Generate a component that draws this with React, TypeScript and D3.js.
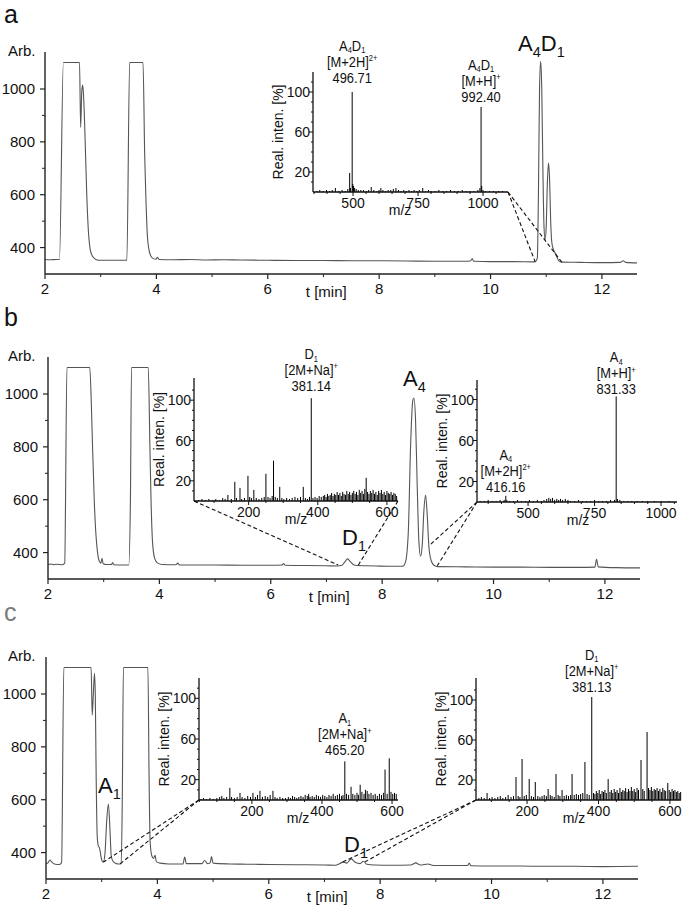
import React from 'react';
import * as d3 from 'd3';

const FONT = "'Liberation Sans', Arial, Helvetica, sans-serif";
type P = [number, number];

// ---------- chromatograms: [time (min), signal (Arb.)] ----------
const traceA: P[] = [
  [2.0, 355], [2.1, 354], [2.2, 355], [2.26, 355], [2.33, 1100], [2.62, 1100], [2.64, 855], [2.66, 990], [2.675, 1015],
  [2.69, 985], [2.71, 880], [2.73, 740], [2.75, 600], [2.78, 460], [2.81, 395], [2.85, 368], [2.9, 357], [2.97, 352],
  [3.2, 352], [3.47, 352], [3.52, 1100], [3.76, 1100], [3.79, 750], [3.81, 600], [3.84, 440], [3.88, 380], [3.93, 360],
  [3.99, 356], [4.02, 363], [4.05, 355], [4.3, 354], [4.6, 355], [4.9, 353], [5.2, 354], [5.5, 353], [6.0, 352],
  [6.5, 351], [7.0, 351], [7.5, 350], [8.0, 350], [8.5, 349], [9.0, 348], [9.5, 348], [9.64, 349], [9.67, 358],
  [9.7, 348], [10.0, 347], [10.4, 347], [10.8, 346], [10.84, 360], [10.86, 600], [10.88, 1000], [10.9, 1105],
  [10.92, 1000], [10.94, 700], [10.96, 480], [10.98, 430], [11.0, 480], [11.02, 640], [11.04, 720], [11.06, 660],
  [11.08, 500], [11.1, 420], [11.13, 392], [11.17, 375], [11.22, 352], [11.28, 345], [11.6, 344], [12.0, 343],
  [12.33, 344], [12.38, 350], [12.43, 344], [12.63, 342],
];

const traceB: P[] = [
  [2.0, 355], [2.05, 357], [2.1, 354], [2.15, 356], [2.26, 354], [2.3, 360], [2.34, 1100], [2.75, 1100], [2.78, 950],
  [2.8, 800], [2.83, 600], [2.86, 470], [2.89, 400], [2.92, 368], [2.95, 360], [2.97, 378], [2.99, 358], [3.05, 355],
  [3.14, 355], [3.16, 362], [3.18, 354], [3.3, 353], [3.45, 353], [3.48, 600], [3.5, 1100], [3.8, 1100], [3.83, 800],
  [3.85, 600], [3.88, 430], [3.92, 375], [3.97, 360], [4.05, 355], [4.3, 354], [4.33, 360], [4.36, 353], [4.7, 353],
  [5.0, 353], [5.5, 352], [6.0, 352], [6.2, 353], [6.23, 358], [6.26, 352], [6.6, 351], [7.0, 350], [7.2, 349],
  [7.28, 352], [7.33, 365], [7.38, 376], [7.43, 365], [7.48, 355], [7.55, 351], [7.7, 350], [7.9, 349], [8.2, 348],
  [8.37, 348], [8.42, 365], [8.47, 480], [8.51, 800], [8.55, 975], [8.57, 985], [8.6, 900], [8.63, 650], [8.66, 440],
  [8.69, 386], [8.72, 430], [8.75, 560], [8.78, 618], [8.81, 540], [8.84, 420], [8.88, 370], [8.93, 352], [9.0, 347],
  [9.5, 346], [10.0, 345], [10.5, 345], [11.0, 344], [11.5, 344], [11.82, 345], [11.85, 375], [11.88, 346],
  [12.2, 343], [12.63, 342],
];

const traceC: P[] = [
  [2.0, 358], [2.04, 362], [2.07, 372], [2.1, 365], [2.15, 357], [2.24, 355], [2.28, 362], [2.32, 1100], [2.81, 1100],
  [2.83, 920], [2.85, 1000], [2.87, 1078], [2.885, 1000], [2.9, 700], [2.92, 460], [2.94, 425], [2.96, 418],
  [2.98, 395], [3.0, 372], [3.03, 364], [3.06, 400], [3.09, 520], [3.12, 584], [3.15, 480], [3.17, 390], [3.2, 368],
  [3.25, 360], [3.3, 357], [3.35, 358], [3.37, 600], [3.39, 1100], [3.83, 1100], [3.85, 700], [3.87, 440], [3.9, 388],
  [3.93, 378], [3.96, 390], [3.98, 366], [4.05, 360], [4.2, 357], [4.46, 357], [4.49, 383], [4.52, 358], [4.8, 358],
  [4.85, 370], [4.9, 358], [4.95, 362], [4.97, 385], [5.0, 360], [5.3, 357], [5.6, 356], [6.0, 355], [6.5, 354],
  [7.0, 353], [7.2, 352], [7.27, 358], [7.33, 364], [7.4, 360], [7.48, 376], [7.56, 362], [7.64, 358], [7.7, 367],
  [7.76, 356], [7.9, 353], [8.2, 352], [8.55, 353], [8.64, 361], [8.72, 353], [8.86, 357], [8.92, 353], [9.0, 351],
  [9.57, 351], [9.6, 360], [9.63, 350], [10.0, 349], [10.5, 349], [11.0, 348], [11.5, 348], [12.0, 347], [12.63, 348],
];

// ---------- mass spectra: [m/z, rel. intensity %] ----------
const spectrumA: P[] = [
  [360, 1], [372, 2], [385, 1], [398, 2], [410, 1], [420, 2], [432, 4], [445, 1], [458, 2], [470, 1], [480, 3],
  [487, 19], [490, 4], [496.71, 100], [499, 8], [502, 6], [506, 4], [512, 3], [520, 2], [530, 2], [540, 2], [552, 1],
  [560, 2], [570, 5], [580, 2], [592, 1], [600, 2], [607, 4], [615, 2], [625, 1], [635, 2], [645, 2], [655, 3],
  [665, 4], [675, 2], [685, 1], [695, 2], [705, 1], [715, 2], [725, 1], [735, 2], [745, 1], [755, 2], [768, 4],
  [780, 1], [790, 2], [800, 1], [815, 1], [830, 2], [845, 1], [860, 1], [875, 2], [890, 1], [905, 1], [920, 2],
  [935, 1], [950, 1], [965, 1], [980, 2], [988, 4], [992.4, 85], [995, 6], [1000, 2], [1010, 1], [1025, 1],
  [1040, 1], [1060, 1], [1075, 1],
];

const spectrumB1: P[] = [
  [55, 1], [65, 2], [75, 1], [85, 2], [95, 1], [105, 2], [115, 1], [125, 3], [132, 2], [140, 6], [150, 2], [160, 19],
  [165, 3], [175, 13], [180, 2], [188, 3], [198, 25], [203, 4], [208, 3], [215, 11], [222, 3], [230, 2], [238, 3],
  [245, 4], [250, 27], [256, 4], [262, 3], [268, 5], [272, 40], [277, 4], [283, 3], [290, 14], [296, 3], [302, 2],
  [310, 3], [318, 2], [326, 3], [334, 4], [342, 3], [350, 4], [358, 14], [364, 3], [370, 2], [376, 4], [381.14, 102],
  [386, 3], [392, 4], [398, 3], [404, 5], [410, 4], [416, 5], [420, 6], [424, 4], [428, 7], [432, 5], [436, 6],
  [440, 8], [444, 5], [448, 7], [452, 6], [456, 9], [460, 6], [464, 8], [468, 5], [472, 9], [476, 7], [480, 6],
  [484, 10], [488, 7], [492, 9], [496, 6], [500, 8], [504, 10], [508, 7], [512, 9], [516, 6], [520, 11], [524, 8],
  [528, 10], [532, 7], [536, 12], [540, 23], [544, 9], [548, 7], [552, 10], [556, 8], [560, 11], [564, 7], [568, 9],
  [572, 6], [576, 10], [580, 8], [584, 11], [588, 7], [592, 9], [596, 6], [600, 10], [604, 8], [608, 7], [612, 9],
  [616, 6], [620, 8], [624, 7], [628, 5],
];

const spectrumB2: P[] = [
  [320, 1], [335, 1], [350, 2], [365, 1], [380, 1], [395, 2], [410, 2], [416.16, 6], [420, 2], [430, 1], [445, 1],
  [460, 2], [475, 1], [490, 1], [505, 2], [520, 1], [535, 2], [550, 1], [560, 2], [570, 3], [578, 4], [585, 3],
  [592, 4], [600, 2], [608, 3], [615, 2], [622, 3], [630, 2], [640, 3], [650, 2], [660, 1], [675, 1], [690, 2],
  [705, 1], [720, 1], [735, 1], [750, 2], [765, 1], [780, 1], [795, 1], [810, 2], [825, 2], [831.33, 103], [836, 3],
  [845, 2], [860, 1], [875, 1], [890, 1], [910, 1], [930, 1], [950, 1], [975, 1], [1000, 1], [1030, 1],
];

const spectrumC1: P[] = [
  [55, 1], [62, 2], [70, 1], [80, 2], [90, 1], [100, 2], [108, 3], [114, 4], [120, 2], [128, 3], [137, 12], [142, 3],
  [150, 2], [158, 3], [166, 7], [172, 3], [180, 2], [188, 4], [196, 3], [203, 7], [210, 3], [216, 5], [223, 9],
  [230, 3], [238, 4], [245, 3], [252, 5], [260, 9], [266, 3], [272, 2], [280, 3], [288, 2], [296, 2], [304, 3],
  [310, 2], [316, 4], [322, 3], [328, 2], [334, 3], [340, 4], [346, 3], [352, 5], [358, 4], [362, 6], [366, 3],
  [372, 4], [378, 3], [384, 5], [390, 4], [396, 3], [402, 5], [408, 4], [414, 3], [420, 5], [426, 4], [432, 6],
  [438, 4], [444, 5], [450, 6], [456, 4], [460, 5], [465.2, 38], [470, 6], [476, 5], [483, 13], [488, 6], [494, 5],
  [500, 7], [504, 5], [509, 15], [514, 8], [520, 6], [524, 10], [529, 9], [534, 6], [540, 7], [546, 5], [552, 6],
  [558, 4], [564, 6], [570, 5], [576, 7], [580, 30], [586, 6], [592, 41], [597, 8], [602, 6], [607, 7], [612, 6],
];

const spectrumC2: P[] = [
  [65, 2], [72, 3], [80, 2], [88, 7], [95, 2], [102, 3], [110, 2], [118, 3], [125, 4], [132, 2], [140, 3], [147, 5],
  [155, 3], [162, 4], [169, 23], [175, 4], [180, 3], [186, 41], [192, 4], [198, 5], [206, 21], [212, 4], [218, 3],
  [223, 18], [230, 4], [236, 3], [242, 4], [248, 5], [254, 4], [259, 11], [265, 5], [270, 4], [276, 3], [281, 26],
  [287, 5], [292, 4], [298, 10], [304, 4], [310, 5], [316, 4], [322, 5], [326, 26], [332, 5], [338, 6], [344, 5],
  [350, 6], [356, 7], [362, 38], [368, 6], [374, 5], [381.13, 103], [386, 7], [390, 6], [394, 9], [398, 7], [402, 10],
  [406, 6], [410, 9], [414, 8], [418, 10], [422, 7], [427, 21], [432, 8], [436, 10], [440, 7], [444, 11], [448, 8],
  [452, 10], [456, 7], [460, 12], [464, 8], [468, 10], [472, 9], [476, 12], [480, 8], [484, 11], [488, 9], [492, 13],
  [496, 9], [500, 11], [504, 8], [508, 12], [512, 10], [519, 40], [524, 11], [528, 9], [536, 68], [540, 12], [544, 10],
  [548, 13], [552, 9], [556, 11], [560, 10], [564, 12], [568, 9], [572, 11], [576, 8], [580, 12], [584, 10], [588, 9],
  [594, 17], [598, 10], [602, 8], [606, 11], [610, 9], [614, 10], [618, 8], [622, 9], [626, 7], [630, 8],
];

// ---------- ticks ----------
const timeTicks = [2, 4, 6, 8, 10, 12];
const timeMinorTicks = [3, 5, 7, 9, 11];
const signalTicks = [400, 600, 800, 1000];
const signalMinorTicks = [500, 700, 900];
const intensityTicks = [20, 60, 100];
const intensityMinorTicks = [10, 30, 40, 50, 70, 80, 90, 110];
const mzTicksWide = [500, 750, 1000];
const mzMinorWide = [350, 400, 450, 550, 600, 650, 700, 800, 850, 900, 950, 1050];
const mzTicksNarrow = [200, 400, 600];
const mzMinorNarrow = [50, 100, 150, 250, 300, 350, 450, 500, 550];

type Seg = { t: string; s?: 'sub' | 'sup' };
const lbl = (str: string): Seg[] => {
  const out: Seg[] = [];
  let i = 0;
  while (i < str.length) {
    if (str[i] === '_') { out.push({ t: str[i + 1], s: 'sub' }); i += 2; }
    else if (str[i] === '^') { const e = str.indexOf('}', i); out.push({ t: str.slice(i + 2, e), s: 'sup' }); i = e + 1; }
    else { let j = i; while (j < str.length && str[j] !== '_' && str[j] !== '^') j++; out.push({ t: str.slice(i, j) }); i = j; }
  }
  return out;
};

function Rich({ x, y, segs, size, anchor = 'start', fill = '#111', subScale = 0.62, sx = 1, subShift = 0.25 }:
  { x: number; y: number; segs: Seg[]; size: number; anchor?: string; fill?: string; subScale?: number; sx?: number; subShift?: number }) {
  let shift = 0;
  return (
    <g transform={`translate(${x},${y}) scale(${sx},1)`}>
      <text x={0} y={0} fontSize={size} textAnchor={anchor} fontFamily={FONT} fill={fill}>
        {segs.map((s, i) => {
          const target = s.s === 'sub' ? size * subShift : s.s === 'sup' ? -size * 0.38 : 0;
          const dy = target - shift;
          shift = target;
          return <tspan key={i} dy={dy} fontSize={s.s ? size * subScale : size}>{s.t}</tspan>;
        })}
      </text>
    </g>
  );
}

interface Ann { mz: number; at: number; lines: string[] }
interface Conn { from: number; to: P }
interface InsetCfg {
  data: P[]; xDomain: [number, number]; xRange: [number, number]; yDomain: [number, number]; yRange: [number, number];
  xTicks: number[]; xMinor: number[]; mzLabelX: number; anns: Ann[]; conns: Conn[];
}
interface BigLabel { text: string; x: number; y: number }
interface PanelCfg {
  letter: string; letterColor: string; letterY: number; trace: P[];
  xRange: [number, number]; yRange: [number, number]; labels: BigLabel[]; insets: InsetCfg[];
}

const panels: PanelCfg[] = [
  {
    letter: 'a', letterColor: '#111', letterY: 22, trace: traceA, xRange: [45, 637], yRange: [274, 52],
    labels: [{ text: 'A_4D_1', x: 518, y: 51 }],
    insets: [{
      data: spectrumA, xDomain: [346, 1096], xRange: [313, 508], yDomain: [0, 120], yRange: [192, 72],
      xTicks: mzTicksWide, xMinor: mzMinorWide, mzLabelX: 400,
      anns: [
        { mz: 496.71, at: 109, lines: ['A_4D_1', '[M+2H]^{2+}', '496.71'] },
        { mz: 992.4, at: 90, lines: ['A_4D_1', '[M+H]^{+}', '992.40'] },
      ],
      conns: [{ from: 1096, to: [10.8, 347] }, { from: 1096, to: [11.28, 345] }],
    }],
  },
  {
    letter: 'b', letterColor: '#111', letterY: 325, trace: traceB, xRange: [48, 640], yRange: [579, 357],
    labels: [{ text: 'A_4', x: 403, y: 386 }, { text: 'D_1', x: 342, y: 545 }],
    insets: [
      {
        data: spectrumB1, xDomain: [42, 632], xRange: [194, 398], yDomain: [0, 122], yRange: [501, 378],
        xTicks: mzTicksNarrow, xMinor: mzMinorNarrow, mzLabelX: 296,
        anns: [{ mz: 381.14, at: 109, lines: ['D_1', '[2M+Na]^{+}', '381.14'] }],
        conns: [{ from: 42, to: [7.21, 353] }, { from: 632, to: [7.57, 352] }],
      },
      {
        data: spectrumB2, xDomain: [308, 1060], xRange: [477, 677], yDomain: [0, 119], yRange: [502, 380],
        xTicks: mzTicksWide, xMinor: mzMinorWide, mzLabelX: 578,
        anns: [
          { mz: 831.33, at: 105, lines: ['A_4', '[M+H]^{+}', '831.33'] },
          { mz: 416.16, at: 10, lines: ['A_4', '[M+2H]^{2+}', '416.16'] },
        ],
        conns: [{ from: 308, to: [8.86, 429] }, { from: 308, to: [8.99, 350] }],
      },
    ],
  },
  {
    letter: 'c', letterColor: '#7a7a7a', letterY: 620, trace: traceC, xRange: [46, 638], yRange: [879, 657],
    labels: [{ text: 'A_1', x: 98, y: 793 }, { text: 'D_1', x: 344, y: 852 }],
    insets: [
      {
        data: spectrumC1, xDomain: [49, 617], xRange: [199, 398], yDomain: [0, 120], yRange: [800, 678],
        xTicks: mzTicksNarrow, xMinor: mzMinorNarrow, mzLabelX: 298,
        anns: [{ mz: 465.2, at: 44, lines: ['A_1', '[2M+Na]^{+}', '465.20'] }],
        conns: [{ from: 49, to: [3.03, 364] }, { from: 49, to: [3.33, 357] }],
      },
      {
        data: spectrumC2, xDomain: [57, 631], xRange: [476, 681], yDomain: [0, 122], yRange: [800, 678],
        xTicks: mzTicksNarrow, xMinor: mzMinorNarrow, mzLabelX: 574,
        anns: [{ mz: 381.13, at: 108, lines: ['D_1', '[2M+Na]^{+}', '381.13'] }],
        conns: [{ from: 57, to: [7.28, 360] }, { from: 57, to: [7.73, 365] }],
      },
    ],
  },
];

const AX = '#222';

function Inset({ cfg, px, py }: { cfg: InsetCfg; px: d3.ScaleLinear<number, number>; py: d3.ScaleLinear<number, number> }) {
  const x = d3.scaleLinear().domain(cfg.xDomain).range(cfg.xRange);
  const y = d3.scaleLinear().domain(cfg.yDomain).range(cfg.yRange);
  const y0 = y(0);
  const midY = (cfg.yRange[0] + cfg.yRange[1]) / 2;
  return (
    <g>
      {cfg.conns.map((c, i) => (
        <line key={'c' + i} x1={x(c.from)} y1={y0} x2={px(c.to[0])} y2={py(c.to[1])}
          stroke="#111" strokeWidth={1.1} strokeDasharray="4 2.5" />
      ))}
      {cfg.data.map((d, i) => (
        <line key={i} x1={x(d[0])} x2={x(d[0])} y1={y0} y2={y(d[1])} stroke="#000" strokeWidth={1} />
      ))}
      <line x1={cfg.xRange[0]} x2={cfg.xRange[1]} y1={y0} y2={y0} stroke="#111" strokeWidth={1.3} />
      <line x1={cfg.xRange[0]} x2={cfg.xRange[0]} y1={y0} y2={cfg.yRange[1]} stroke="#111" strokeWidth={1.3} />
      {cfg.xTicks.map(t => (
        <g key={'xt' + t}>
          <line x1={x(t)} x2={x(t)} y1={y0} y2={y0 + 4} stroke="#111" />
          <text x={x(t)} y={y0 + 16} fontSize={14} textAnchor="middle" fontFamily={FONT} fill="#111">{t}</text>
        </g>
      ))}
      {cfg.xMinor.filter(t => t > cfg.xDomain[0] && t < cfg.xDomain[1]).map(t => (
        <line key={'xm' + t} x1={x(t)} x2={x(t)} y1={y0} y2={y0 + 2} stroke="#111" />
      ))}
      {intensityTicks.map(t => (
        <g key={'yt' + t}>
          <line x1={cfg.xRange[0] - 4} x2={cfg.xRange[0]} y1={y(t)} y2={y(t)} stroke="#111" />
          <text x={cfg.xRange[0] - 3} y={y(t)} dy="0.36em" fontSize={14} textAnchor="end" fontFamily={FONT} fill="#111">{t}</text>
        </g>
      ))}
      {intensityMinorTicks.filter(t => t < cfg.yDomain[1]).map(t => (
        <line key={'ym' + t} x1={cfg.xRange[0] - 2} x2={cfg.xRange[0]} y1={y(t)} y2={y(t)} stroke="#111" />
      ))}
      <text x={cfg.mzLabelX} y={y0 + 23} fontSize={14} textAnchor="middle" fontFamily={FONT} fill="#111">m/z</text>
      <text transform={`translate(${cfg.xRange[0] - 30},${midY}) rotate(-90)`} fontSize={14} textAnchor="middle"
        fontFamily={FONT} fill="#111">Real. inten. [%]</text>
      {cfg.anns.map((a, i) => (
        <g key={'a' + i}>
          {a.lines.map((ln, j) => (
            <Rich key={j} x={x(a.mz)} y={y(a.at) - (a.lines.length - 1 - j) * 16} segs={lbl(ln)} size={15}
              anchor="middle" sx={0.86} subScale={0.58} subShift={0.16} />
          ))}
        </g>
      ))}
    </g>
  );
}

function Panel({ cfg }: { cfg: PanelCfg }) {
  const x = d3.scaleLinear().domain([2, 12.63]).range(cfg.xRange);
  const y = d3.scaleLinear().domain([300, 1140]).range(cfg.yRange);
  const line = d3.line<P>().x(d => x(d[0])).y(d => y(d[1])).curve(d3.curveMonotoneX);
  const xb = cfg.yRange[0];
  const xl = cfg.xRange[0];
  return (
    <g>
      <text x={4} y={cfg.letterY + 1} fontSize={25} fontFamily={FONT} fill={cfg.letterColor}>{cfg.letter}</text>
      <text x={8} y={cfg.yRange[1] + 4} fontSize={15} fontFamily={FONT} fill="#111">Arb.</text>
      <path d={line(cfg.trace) || ''} fill="none" stroke="#555" strokeWidth={1.1} />
      <line x1={xl} x2={cfg.xRange[1]} y1={xb} y2={xb} stroke={AX} strokeWidth={1.4} />
      <line x1={xl} x2={xl} y1={xb} y2={cfg.yRange[1]} stroke={AX} strokeWidth={1.4} />
      {timeTicks.map(t => (
        <g key={'t' + t}>
          <line x1={x(t)} x2={x(t)} y1={xb} y2={xb + 5} stroke={AX} strokeWidth={1.2} />
          <text x={x(t)} y={xb + 20} fontSize={15} textAnchor="middle" fontFamily={FONT} fill="#111">{t}</text>
        </g>
      ))}
      {timeMinorTicks.map(t => (
        <line key={'tm' + t} x1={x(t)} x2={x(t)} y1={xb} y2={xb + 3} stroke={AX} />
      ))}
      {signalTicks.map(v => (
        <g key={'s' + v}>
          <line x1={xl - 5} x2={xl} y1={y(v)} y2={y(v)} stroke={AX} strokeWidth={1.2} />
          <text x={xl - 10} y={y(v)} dy="0.36em" fontSize={15} textAnchor="end" fontFamily={FONT} fill="#111">{v}</text>
        </g>
      ))}
      {signalMinorTicks.map(v => (
        <line key={'sm' + v} x1={xl - 3} x2={xl} y1={y(v)} y2={y(v)} stroke={AX} />
      ))}
      <text x={x(7.05)} y={xb + 23} fontSize={15} textAnchor="middle" fontFamily={FONT} fill="#111">t [min]</text>
      {cfg.labels.map((l, i) => (
        <Rich key={i} x={l.x} y={l.y} segs={lbl(l.text)} size={22} subScale={0.66} />
      ))}
      {cfg.insets.map((ins, i) => <Inset key={i} cfg={ins} px={x} py={y} />)}
    </g>
  );
}

export default function App() {
  return (
    <svg width={685} height={911} viewBox="0 0 685 911"
      style={{ position: 'absolute', left: 0, top: 0, background: '#fff' }}>
      <rect width={685} height={911} fill="#fff" />
      {panels.map((p, i) => <Panel key={i} cfg={p} />)}
    </svg>
  );
}
